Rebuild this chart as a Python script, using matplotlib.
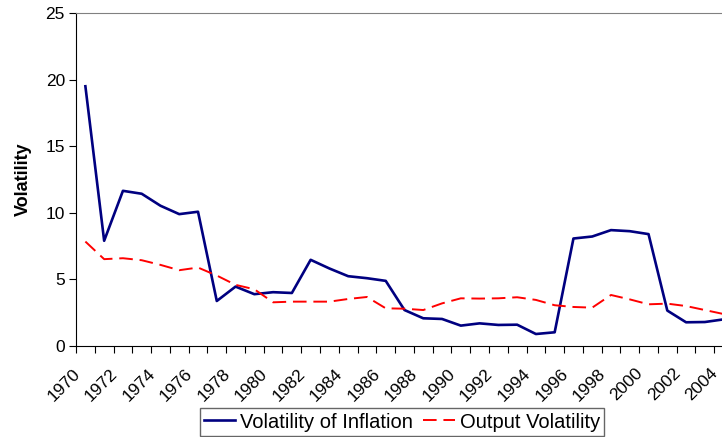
import matplotlib
matplotlib.use("Agg")
import matplotlib.pyplot as plt
import matplotlib.transforms as mtransforms
import numpy as np

plt.rcParams['font.family'] = ['Liberation Sans', 'DejaVu Sans']

years = list(range(1970, 2005))
inflation_vol = [19.5, 7.9, 11.65, 11.43, 10.53, 9.9, 10.08, 3.38, 4.46, 3.89,
                 4.04, 3.98, 6.47, 5.82, 5.24, 5.09, 4.89, 2.7, 2.08, 2.03,
                 1.53, 1.7, 1.58, 1.6, 0.9, 1.03, 8.07, 8.22, 8.7, 8.62,
                 8.4, 2.66, 1.78, 1.8, 2.0]
output_vol = [7.84, 6.52, 6.59, 6.44, 6.09, 5.69, 5.89, 5.29, 4.59, 4.26,
              3.28, 3.33, 3.33, 3.33, 3.53, 3.68, 2.83, 2.8, 2.7, 3.2,
              3.58, 3.56, 3.58, 3.66, 3.46, 3.06, 2.93, 2.88, 3.83, 3.5,
              3.13, 3.18, 3.0, 2.7, 2.4]
y_ticks = [0, 5, 10, 15, 20, 25]

W, H = 722, 437
fig = plt.figure(figsize=(W / 100, H / 100), dpi=100)
# axes runs off the right edge like the cropped original
ax = fig.add_axes([76 / W, 91 / H, 657 / W, 333 / H])

ax.plot(years, inflation_vol, color='#000080', lw=1.9, label='Volatility of Inflation')
ax.plot(years, output_vol, color='#FF0000', lw=1.4, dashes=(7, 3.5), label='Output Volatility')

ax.set_xlim(years[0] - 0.5, years[-1] + 0.5)
ax.set_ylim(0, 25)
ax.set_yticks(y_ticks)
ax.tick_params(axis='y', direction='out', length=5, width=0.8, labelsize=12.5, pad=3)

# ticks between categories, labels on every second year
ax.set_xticks(np.arange(years[0] - 0.5, years[-1] + 1, 1))
ax.set_xticklabels([])
ax.tick_params(axis='x', which='major', direction='out', length=5, width=0.8)
ax.set_xticks(years[::2], minor=True)
ax.set_xticklabels([str(y) for y in years[::2]], minor=True, rotation=45,
                   ha='right', va='center', rotation_mode='anchor', fontsize=12.5)
ax.tick_params(axis='x', which='minor', length=0, pad=18)
shift = mtransforms.ScaledTranslation(-8 / 100, 0, fig.dpi_scale_trans)
for lbl in ax.get_xticklabels(minor=True):
    lbl.set_transform(lbl.get_transform() + shift)

ax.spines['top'].set_color('#808080')
ax.spines['right'].set_color('#808080')
ax.spines['left'].set_linewidth(0.8)
ax.spines['bottom'].set_linewidth(0.8)

ax.set_ylabel('Volatility', fontsize=13, fontweight='bold', labelpad=10)

leg = fig.legend(loc='center', bbox_to_anchor=(402 / W, 1 - 422 / H), ncol=2,
                 fontsize=14.5, frameon=True, fancybox=False, edgecolor='#404040',
                 handlelength=1.55, columnspacing=0.5, handletextpad=0.25,
                 borderpad=0.2, borderaxespad=0)
leg.get_frame().set_linewidth(1.0)

fig.savefig('out.png', dpi=100)
